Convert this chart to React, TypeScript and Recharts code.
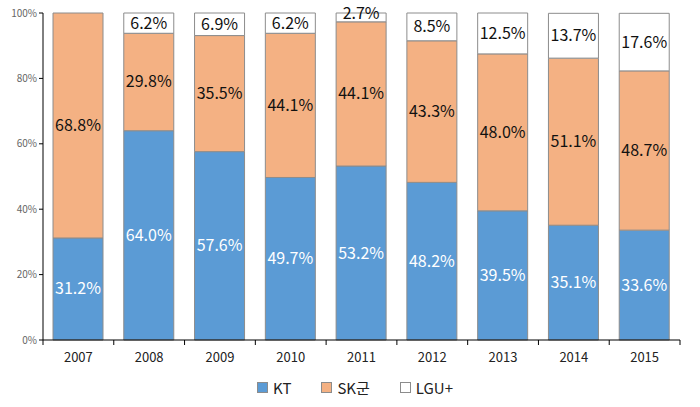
import { BarChart, Bar, XAxis, YAxis, Legend, LabelList } from "recharts";

const years = ["2007", "2008", "2009", "2010", "2011", "2012", "2013", "2014", "2015"];
const kt = [31.2, 64.0, 57.6, 49.7, 53.2, 48.2, 39.5, 35.1, 33.6];
const sk = [68.8, 29.8, 35.5, 44.1, 44.1, 43.3, 48.0, 51.1, 48.7];
const lgu = [0, 6.2, 6.9, 6.2, 2.7, 8.5, 12.5, 13.7, 17.6];
const yTicks = [0, 20, 40, 60, 80, 100];

const series = [
  { key: "KT", values: kt, color: "#5b9bd5", text: "#ffffff" },
  { key: "SK군", values: sk, color: "#f4b183", text: "#111111" },
  { key: "LGU+", values: lgu, color: "#ffffff", text: "#111111" },
];

const data = years.map((year, i) => ({
  year,
  KT: kt[i],
  "SK군": sk[i],
  "LGU+": lgu[i],
}));

const FONT = "'Noto Sans CJK KR', 'Noto Sans', sans-serif";
const W = 700;
const H = 407;
const LEFT = 43;
const RIGHT = 20;
const BAND = (W - LEFT - RIGHT) / years.length;

const XTick = (props: any) => {
  const { x, y, payload, index } = props;
  const half = BAND / 2;
  return (
    <g>
      <line x1={x - half} x2={x - half} y1={y - 8} y2={y - 3} stroke="#000" />
      {index === years.length - 1 && (
        <line x1={x + half} x2={x + half} y1={y - 8} y2={y - 3} stroke="#000" />
      )}
      <text x={x} y={y + 14} textAnchor="middle" fontSize={13} fill="#222" fontFamily={FONT}>
        {payload.value}
      </text>
    </g>
  );
};

const makeLabel = (color: string) => (props: any) => {
  const { x, y, width, height, value } = props;
  if (!value) return null;
  const cy = height < 14 ? y + height / 2 - 4 : y + height / 2;
  return (
    <text
      x={x + width / 2}
      y={cy}
      dy={5.5}
      textAnchor="middle"
      fontSize={16}
      fill={color}
      fontFamily={FONT}
    >
      {value.toFixed(1)}%
    </text>
  );
};

const renderLegend = () => (
  <div
    style={{
      display: "flex",
      justifyContent: "center",
      gap: 30,
      fontFamily: FONT,
      fontSize: 15,
      color: "#222",
      paddingLeft: 30,
    }}
  >
    {series.map((s) => (
      <span key={s.key} style={{ display: "flex", alignItems: "center", gap: 5 }}>
        <span
          style={{
            width: 9,
            height: 9,
            background: s.color,
            border: "1px solid #8c8c8c",
            display: "inline-block",
          }}
        />
        {s.key}
      </span>
    ))}
  </div>
);

export default function App() {
  return (
    <div style={{ position: "absolute", left: 0, top: 0, background: "#fff" }}>
      <BarChart
        width={W}
        height={H}
        data={data}
        margin={{ top: 13, right: RIGHT, left: 0, bottom: 0 }}
        barSize={50}
      >
        <XAxis
          dataKey="year"
          tickLine={false}
          axisLine={{ stroke: "#000" }}
          tick={<XTick />}
          height={37}
          interval={0}
        />
        <YAxis
          width={LEFT}
          domain={[0, 100]}
          ticks={yTicks}
          tickFormatter={(v) => `${v}%`}
          axisLine={{ stroke: "#000" }}
          tickLine={{ stroke: "#000" }}
          tickSize={4}
          tick={{ fontSize: 10, fill: "#666", fontFamily: FONT }}
        />
        <Legend verticalAlign="bottom" height={30} content={renderLegend} />
        {series.map((s) => (
          <Bar
            key={s.key}
            dataKey={s.key}
            stackId="a"
            fill={s.color}
            stroke="#8c8c8c"
            strokeWidth={1}
            isAnimationActive={false}
          >
            <LabelList dataKey={s.key} content={makeLabel(s.text)} />
          </Bar>
        ))}
      </BarChart>
    </div>
  );
}
